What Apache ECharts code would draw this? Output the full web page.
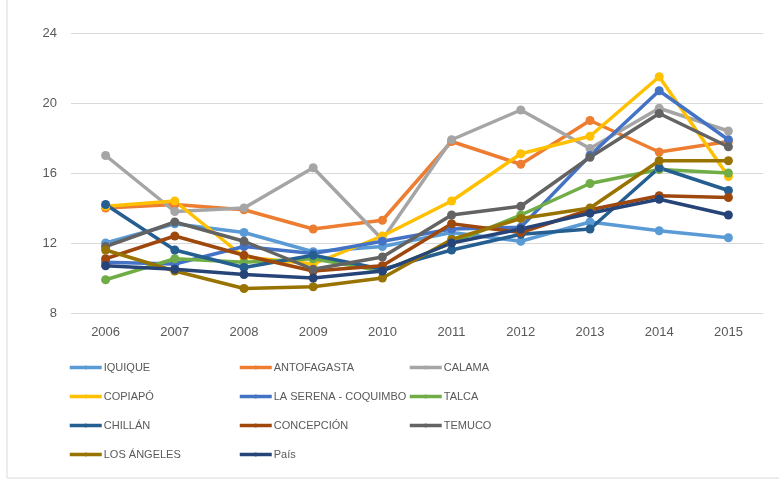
<!DOCTYPE html>
<html>
<head>
<meta charset="utf-8">
<script src="https://cdn.jsdelivr.net/npm/echarts@6/dist/echarts.min.js"></script>
<style>
  html, body { margin: 0; padding: 0; background: #fff; }
  #chart { width: 779px; height: 482px; }
</style>
</head>
<body>
<div id="chart"></div>
<script>
// años (eje X)
const years = ['2006', '2007', '2008', '2009', '2010', '2011', '2012', '2013', '2014', '2015'];

// valores
const iquique     = [12.0, 13.1, 12.6, 11.5, 11.8, 12.6, 12.1, 13.2, 12.7, 12.3];
const antofagasta = [14.0, 14.2, 13.9, 12.8, 13.3, 17.8, 16.5, 19.0, 17.2, 17.8];
const calama      = [17.0, 13.8, 14.0, 16.3, 12.2, 17.9, 19.6, 17.4, 19.7, 18.4];
const copiapo     = [14.1, 14.4, 11.2, 10.8, 12.4, 14.4, 17.1, 18.1, 21.5, 15.8];
const laSerena    = [10.9, 10.8, 11.8, 11.4, 12.1, 12.8, 12.9, 17.0, 20.7, 17.9];
const talca       = [9.9, 11.1, 10.9, 11.1, 10.4, 12.0, 13.6, 15.4, 16.2, 16.0];
const chillan     = [14.2, 11.6, 10.6, 11.3, 10.5, 11.6, 12.5, 12.8, 16.3, 15.0];
const concepcion  = [11.1, 12.4, 11.3, 10.4, 10.7, 13.1, 12.6, 13.9, 14.7, 14.6];
const temuco      = [11.8, 13.2, 12.1, 10.5, 11.2, 13.6, 14.1, 16.9, 19.4, 17.5];
const losAngeles  = [11.6, 10.4, 9.4, 9.5, 10.0, 12.2, 13.4, 14.0, 16.7, 16.7];
const pais        = [10.7, 10.5, 10.2, 10.0, 10.4, 12.0, 12.8, 13.7, 14.5, 13.6];

const yTicks = [8, 12, 16, 20, 24];

const seriesDefs = [
  { name: 'IQUIQUE', data: iquique, color: '#5B9BD5' },
  { name: 'ANTOFAGASTA', data: antofagasta, color: '#ED7D31' },
  { name: 'CALAMA', data: calama, color: '#A5A5A5' },
  { name: 'COPIAPÓ', data: copiapo, color: '#FFC000' },
  { name: 'LA SERENA - COQUIMBO', data: laSerena, color: '#4472C4' },
  { name: 'TALCA', data: talca, color: '#70AD47' },
  { name: 'CHILLÁN', data: chillan, color: '#255E91' },
  { name: 'CONCEPCIÓN', data: concepcion, color: '#9E480E' },
  { name: 'TEMUCO', data: temuco, color: '#636363' },
  { name: 'LOS ÁNGELES', data: losAngeles, color: '#997300' },
  { name: 'País', data: pais, color: '#264478' }
];

const chart = echarts.init(document.getElementById('chart'));

// leyenda en 3 columnas, como en Excel
const legendBase = {
  orient: 'vertical',
  top: 357,
  itemWidth: 32,
  itemHeight: 5,
  itemGap: 18,
  lineStyle: { width: 3.5 },
  textStyle: { color: '#595959', fontSize: 11, fontFamily: 'Liberation Sans', padding: [0, 0, 0, -3] },
  selectedMode: false
};

const option = {
  backgroundColor: '#fff',
  animation: false,
  graphic: [{
    type: 'rect',
    shape: { x: 7, y: -2, width: 790, height: 480 },
    style: { fill: 'none', stroke: '#D9D9D9', lineWidth: 1 },
    silent: true
  }],
  grid: { left: 71, right: 16, top: 33, height: 280 },
  xAxis: {
    type: 'category',
    data: years,
    boundaryGap: true,
    axisLine: { show: false },
    axisTick: { show: false },
    axisLabel: { color: '#595959', fontSize: 13, margin: 13, fontFamily: 'Liberation Sans' }
  },
  yAxis: {
    type: 'value',
    min: yTicks[0],
    max: yTicks[yTicks.length - 1],
    interval: 4,
    axisLine: { show: false },
    axisTick: { show: false },
    axisLabel: { color: '#595959', fontSize: 13, margin: 14, fontFamily: 'Liberation Sans' },
    splitLine: { lineStyle: { color: '#D9D9D9', width: 1 } }
  },
  legend: [
    Object.assign({}, legendBase, { left: 63, data: ['IQUIQUE', 'COPIAPÓ', 'CHILLÁN', 'LOS ÁNGELES'] }),
    Object.assign({}, legendBase, { left: 233, data: ['ANTOFAGASTA', 'LA SERENA - COQUIMBO', 'CONCEPCIÓN', 'País'] }),
    Object.assign({}, legendBase, { left: 403, data: ['CALAMA', 'TALCA', 'TEMUCO'] })
  ],
  series: seriesDefs.map(s => ({
    name: s.name,
    type: 'line',
    data: s.data,
    symbol: 'circle',
    symbolSize: 9,
    lineStyle: { width: 3.5, color: s.color },
    itemStyle: { color: s.color },
    emphasis: { disabled: true }
  }))
};

chart.setOption(option);
</script>
</body>
</html>
